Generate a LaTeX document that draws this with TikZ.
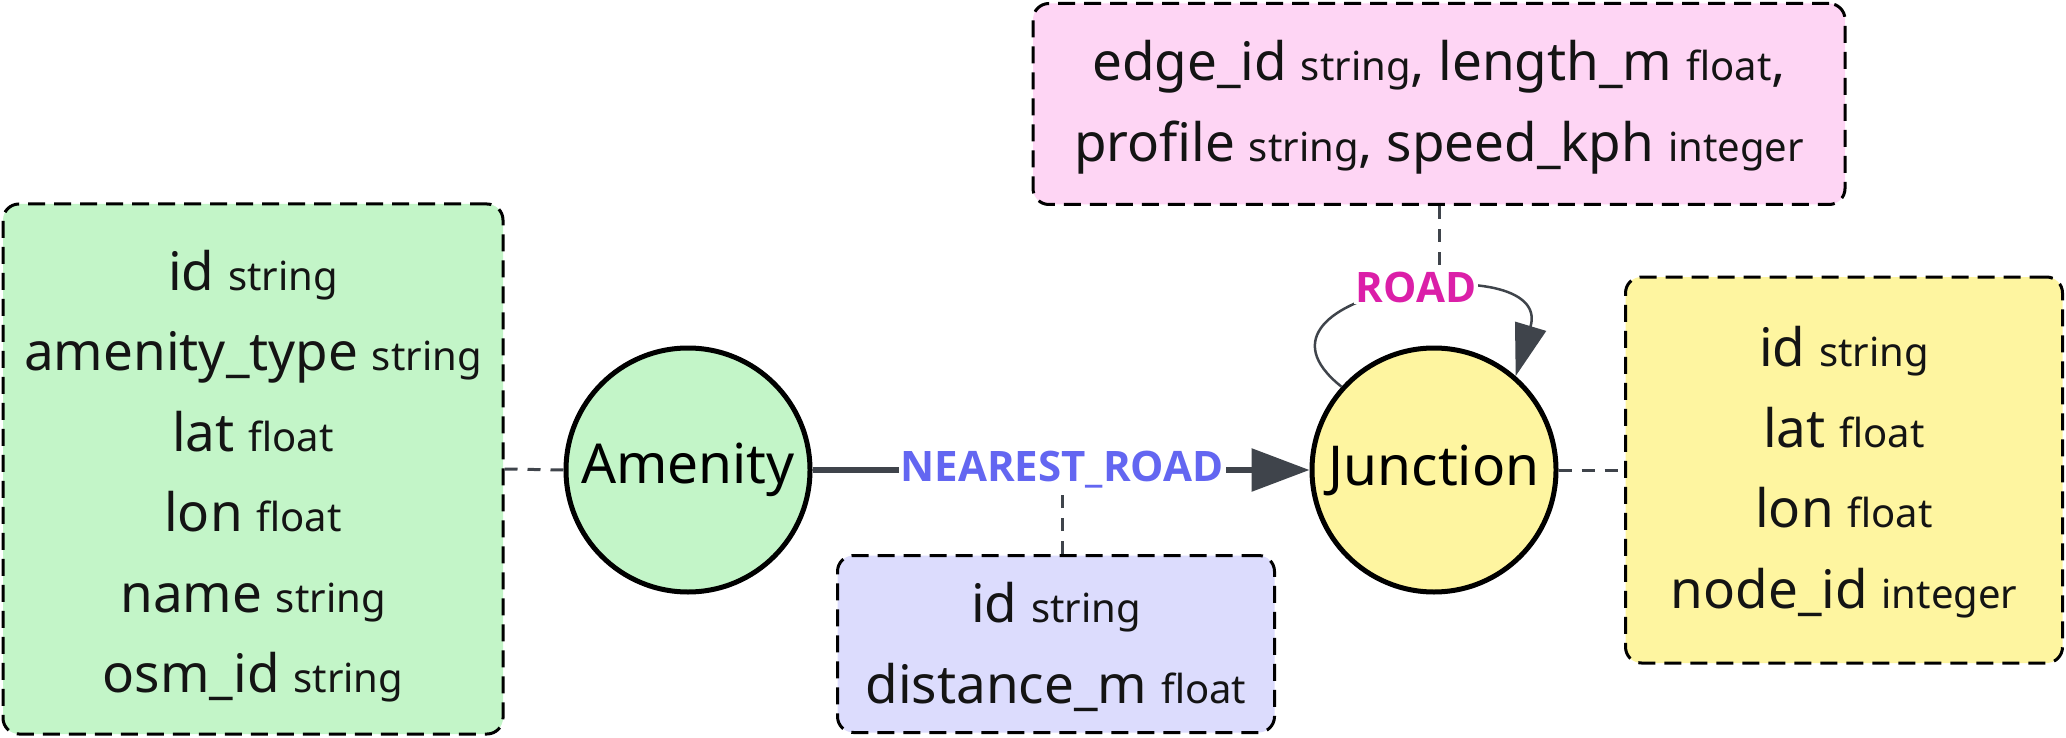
\documentclass[tikz,border=0pt]{standalone}
\usepackage{fontspec}
\setmainfont{Noto Sans}
\newfontfamily\lblfont{Open Sans}
\usetikzlibrary{arrows.meta}
\definecolor{gfill}{HTML}{C3F5C8}
\definecolor{pfill}{HTML}{DCDCFD}
\definecolor{kfill}{HTML}{FED5F4}
\definecolor{yfill}{HTML}{FEF5A0}
\definecolor{edgecol}{HTML}{3F444B}
\definecolor{nrcol}{HTML}{6366F1}
\definecolor{rdcol}{HTML}{DB1FA8}
\definecolor{txtcol}{HTML}{141414}
\newcommand\ty[1]{{\fontsize{40}{80}\selectfont #1}}
\begin{document}
\begin{tikzpicture}[x=1pt,y=-1pt,
  entity/.style={circle, draw=black, line width=5pt, minimum size=244pt, inner sep=0pt, font=\fontsize{55}{60}\selectfont, text=black},
  propbox/.style={draw=black, line width=3pt, dash pattern=on 17pt off 9pt, rounded corners=16pt, inner sep=0pt},
  proptext/.style={align=center, text=txtcol, font=\fontsize{53}{80.5}\selectfont, inner sep=0pt},
  conn/.style={draw=edgecol, line width=3pt, dash pattern=on 13pt off 10pt},
  elabel/.style={fill=white, inner sep=2pt, font=\lblfont\bfseries\fontsize{42}{48}\selectfont}
]
\useasboundingbox (0,0) rectangle (2066,738);
% property boxes
\node[propbox, fill=gfill, minimum width=500pt, minimum height=530pt] (gbox) at (253,469) {};
\node[proptext] (gtext) at (253,476)
  {id \ty{string}\\ amenity\_type \ty{string}\\ lat \ty{float}\\ lon \ty{float}\\ name \ty{string}\\ osm\_id \ty{string}};
\node[propbox, fill=pfill, minimum width=437pt, minimum height=177pt] (pbox) at (1056,644) {};
\node[proptext] (ptext) at (1056,647)
  {id \ty{string}\\ distance\_m \ty{float}};
\node[propbox, fill=kfill, minimum width=812pt, minimum height=201pt] (kbox) at (1439,104) {};
\node[proptext] (ktext) at (1439,107)
  {edge\_id \ty{string}, length\_m \ty{float},\\ profile \ty{string}, speed\_kph \ty{integer}};
\node[propbox, fill=yfill, minimum width=437pt, minimum height=386pt] (ybox) at (1844,470) {};
\node[proptext] (ytext) at (1844,472)
  {id \ty{string}\\ lat \ty{float}\\ lon \ty{float}\\ node\_id \ty{integer}};
% entities
\node[entity, fill=gfill] (A) at (688,470) {Amenity};
\node[entity, fill=yfill] (J) at (1434,470) {Junction};
% edges
\draw[edgecol, line width=6pt, -{Triangle[length=58pt,width=42pt]}] (A) -- (J);
\node[elabel, text=nrcol] (nr) at (1062,470) {NEAREST\_ROAD};
\draw[edgecol, line width=2.5pt, -{Triangle[length=52pt,width=32pt]}] (J.138) .. controls (1220,290) and (1555,245) .. (J.49);
\node[elabel, text=rdcol] (rd) at (1416,287) {ROAD};
% dashed attachments
\draw[conn] (gbox.east) -- (A.west);
\draw[conn] (J.east) -- (ybox.west);
\draw[conn] (pbox.north -| nr.south) -- (nr.south);
\draw[conn] (kbox.south) -- (kbox.south |- rd.north);
\end{tikzpicture}
\end{document}
